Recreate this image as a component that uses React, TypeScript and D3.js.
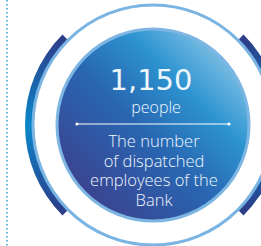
import { useEffect, useRef } from "react";
import * as d3 from "d3";

// figure content
const figures = ["1,150"];
const units = ["people"];
const captionLines = ["The number", "of dispatched", "employees of the", "Bank"];
// side arcs, degrees clockwise from 12 o'clock
const sideArcs = [
  { start: 225, end: 315 },
  { start: 45, end: 135 },
];

const App = () => {
  const ref = useRef<SVGSVGElement | null>(null);

  useEffect(() => {
    const W = 261;
    const H = 246;
    const cx = 153;
    const cy = 125;

    const svg = d3.select(ref.current);
    svg.selectAll("*").remove();
    svg.attr("width", W).attr("height", H);

    const defs = svg.append("defs");

    const fill = defs
      .append("linearGradient")
      .attr("id", "discFill")
      .attr("x1", "0%")
      .attr("y1", "80%")
      .attr("x2", "80%")
      .attr("y2", "0%");
    fill.append("stop").attr("offset", "0%").attr("stop-color", "#3d3f8c");
    fill.append("stop").attr("offset", "45%").attr("stop-color", "#2966b2");
    fill.append("stop").attr("offset", "72%").attr("stop-color", "#2c93d0");
    fill.append("stop").attr("offset", "100%").attr("stop-color", "#8ac5e6");

    // arcs sit in a group translated to the centre, so y is relative to cy
    const arcFill = defs
      .append("linearGradient")
      .attr("id", "arcFill")
      .attr("gradientUnits", "userSpaceOnUse")
      .attr("x1", 0)
      .attr("y1", 35 - cy)
      .attr("x2", 0)
      .attr("y2", 215 - cy);
    arcFill.append("stop").attr("offset", "0%").attr("stop-color", "#2e3a86");
    arcFill.append("stop").attr("offset", "50%").attr("stop-color", "#0a88cb");
    arcFill.append("stop").attr("offset", "100%").attr("stop-color", "#2e3a86");

    // dotted rule on the left
    svg
      .append("line")
      .attr("x1", 7)
      .attr("x2", 7)
      .attr("y1", 0)
      .attr("y2", H)
      .attr("stroke", "#4aa6dc")
      .attr("stroke-width", 1.6)
      .attr("stroke-dasharray", "1.6,2.4");

    const g = svg.append("g").attr("transform", `translate(${cx},${cy})`);

    // thick side arcs
    const arc = d3.arc<{ start: number; end: number }>()
      .innerRadius(120)
      .outerRadius(128)
      .startAngle((d) => (d.start * Math.PI) / 180)
      .endAngle((d) => (d.end * Math.PI) / 180);

    g.selectAll("path.side")
      .data(sideArcs)
      .enter()
      .append("path")
      .attr("class", "side")
      .attr("d", arc)
      .attr("fill", "url(#arcFill)");

    // thin outer ring
    g.append("circle")
      .attr("r", 120)
      .attr("fill", "none")
      .attr("stroke", "#7ab4e2")
      .attr("stroke-width", 3);

    // central disc
    g.append("circle")
      .attr("r", 96)
      .attr("fill", "url(#discFill)")
      .attr("stroke", "#7db6e3")
      .attr("stroke-width", 3);

    const text = g.append("g").attr("fill", "#eef6fc").attr("text-anchor", "middle");

    text
      .selectAll("text.fig")
      .data(figures)
      .enter()
      .append("text")
      .attr("class", "fig")
      .attr("x", -2)
      .attr("y", -35)
      .attr("font-family", "'DejaVu Sans', sans-serif")
      .attr("font-size", 28)
      .attr("textLength", 83)
      .attr("lengthAdjust", "spacingAndGlyphs")
      .text((d) => d);

    text
      .selectAll("text.unit")
      .data(units)
      .enter()
      .append("text")
      .attr("class", "unit")
      .attr("x", 3)
      .attr("y", -12)
      .attr("font-family", "'Open Sans', sans-serif")
      .attr("font-weight", 300)
      .attr("font-size", 16)
      .text((d) => d);

    // white divider with end dots
    g.append("line")
      .attr("x1", -76)
      .attr("x2", 76)
      .attr("y1", -1)
      .attr("y2", -1)
      .attr("stroke", "#ffffff")
      .attr("stroke-width", 1);
    g.selectAll("circle.dot")
      .data([-76, 76])
      .enter()
      .append("circle")
      .attr("class", "dot")
      .attr("cx", (d) => d)
      .attr("cy", -1)
      .attr("r", 1.6)
      .attr("fill", "#ffffff");

    text
      .selectAll("text.cap")
      .data(captionLines)
      .enter()
      .append("text")
      .attr("class", "cap")
      .attr("x", 1)
      .attr("y", (_, i) => 22 + i * 19.5)
      .attr("font-family", "'Open Sans', sans-serif")
      .attr("font-weight", 300)
      .attr("font-size", 16.5)
      .text((d) => d);
  }, []);

  return (
    <svg
      ref={ref}
      style={{ position: "absolute", left: 0, top: 0, display: "block" }}
    />
  );
};

export default App;
